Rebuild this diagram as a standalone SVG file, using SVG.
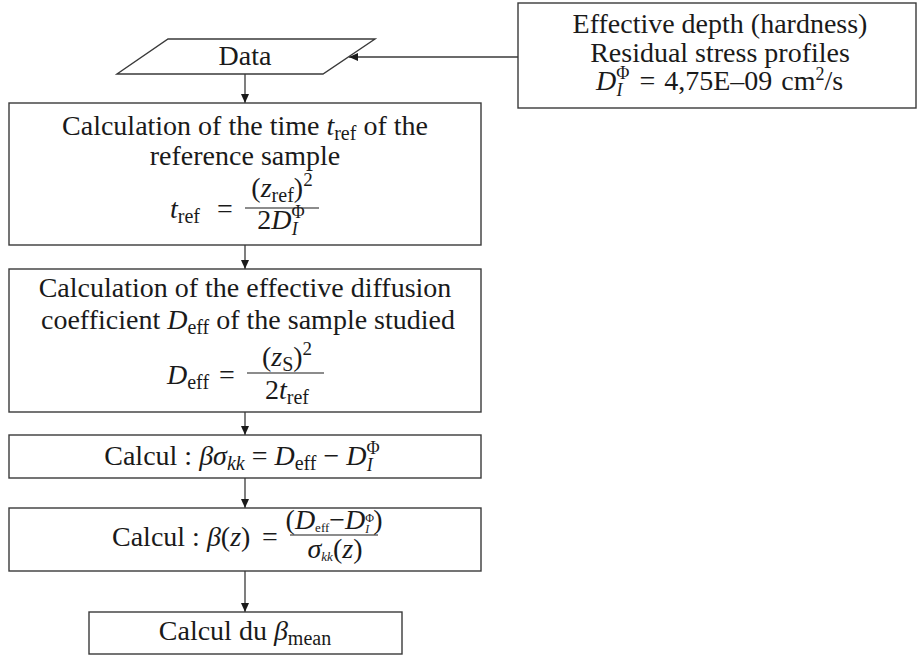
<svg xmlns="http://www.w3.org/2000/svg" width="917" height="657" viewBox="0 0 917 657">
<defs>
<style>
text{font-family:"Liberation Serif","DejaVu Serif",serif;font-size:28px;fill:#1a1a1a}
.it{font-style:italic}
.box{fill:#fff;stroke:#3a3a3a;stroke-width:1.4}
.ln{stroke:#3a3a3a;stroke-width:1.3;fill:none}
.bar{stroke:#1a1a1a;stroke-width:1.2}
</style>
<marker id="ah" markerWidth="9" markerHeight="8" refX="9" refY="4" orient="auto" markerUnits="userSpaceOnUse">
<path d="M0,0 L9,4 L0,8 z" fill="#1a1a1a"/>
</marker>
</defs>
<rect width="917" height="657" fill="#fff"/>

<g id="connectors">
<line class="ln" x1="518" y1="57" x2="349" y2="57" marker-end="url(#ah)"/>
<line class="ln" x1="245" y1="74" x2="245" y2="103" marker-end="url(#ah)"/>
<line class="ln" x1="245" y1="245" x2="245" y2="269" marker-end="url(#ah)"/>
<line class="ln" x1="245" y1="412" x2="245" y2="435" marker-end="url(#ah)"/>
<line class="ln" x1="245" y1="478" x2="245" y2="508" marker-end="url(#ah)"/>
<line class="ln" x1="245" y1="571" x2="245" y2="612" marker-end="url(#ah)"/>
</g>

<g id="input">
<rect class="box" x="518" y="3" width="398" height="105"/>
<text x="720" y="33" text-anchor="middle">Effective depth (hardness)</text>
<text x="720" y="62" text-anchor="middle">Residual stress profiles</text>
<text x="596" y="90" word-spacing="2"><tspan class="it">D</tspan><tspan font-size="18" dy="-11">Φ</tspan><tspan class="it" font-size="18" dx="-13" dy="17">I</tspan><tspan dx="8" dy="-6"> = 4,75E–09 cm</tspan><tspan font-size="18" dy="-10">2</tspan><tspan dy="10">/s</tspan></text>
</g>

<g id="data">
<polygon class="box" points="168,39 375,39 323,74 117,74"/>
<text x="245" y="65" text-anchor="middle">Data</text>
</g>

<g id="tref">
<rect class="box" x="9" y="103" width="472" height="142"/>
<text x="245" y="135" text-anchor="middle">Calculation of the time <tspan class="it">t</tspan><tspan font-size="20" dy="5">ref</tspan><tspan dy="-5"> of the</tspan></text>
<text x="245" y="165" text-anchor="middle">reference sample</text>
<text x="170" y="218"><tspan class="it">t</tspan><tspan font-size="20" dy="5">ref</tspan></text>
<text x="217" y="218">=</text>
<line class="bar" x1="245" y1="208" x2="319" y2="208"/>
<text x="282" y="197" text-anchor="middle">(<tspan class="it">z</tspan><tspan font-size="20" dy="5">ref</tspan><tspan dy="-5">)</tspan><tspan font-size="19" dy="-11">2</tspan></text>
<text x="281" y="229" text-anchor="middle">2<tspan class="it">D</tspan><tspan font-size="18" dy="-11">Φ</tspan><tspan class="it" font-size="18" dx="-13" dy="17">I</tspan></text>
</g>

<g id="deff">
<rect class="box" x="9" y="269" width="472" height="143"/>
<text x="245" y="297" text-anchor="middle">Calculation of the effective diffusion</text>
<text x="248" y="329" text-anchor="middle">coefficient <tspan class="it">D</tspan><tspan font-size="20" dy="5">eff</tspan><tspan dy="-5"> of the sample studied</tspan></text>
<text x="167" y="384"><tspan class="it">D</tspan><tspan font-size="20" dy="5">eff</tspan></text>
<text x="219" y="384">=</text>
<line class="bar" x1="247" y1="373" x2="324" y2="373"/>
<text x="287" y="366" text-anchor="middle">(<tspan class="it">z</tspan><tspan font-size="20" dy="5">S</tspan><tspan dy="-5">)</tspan><tspan font-size="19" dy="-11">2</tspan></text>
<text x="287" y="399" text-anchor="middle">2<tspan class="it">t</tspan><tspan font-size="20" dy="5">ref</tspan></text>
</g>

<g id="betasigma">
<rect class="box" x="9" y="435" width="472" height="43"/>
<text x="242" y="465" text-anchor="middle">Calcul : <tspan class="it">βσ</tspan><tspan class="it" font-size="20" dy="5">kk</tspan><tspan dy="-5"> = </tspan><tspan class="it">D</tspan><tspan font-size="20" dy="5">eff</tspan><tspan dy="-5"> − </tspan><tspan class="it">D</tspan><tspan font-size="18" dy="-11">Φ</tspan><tspan class="it" font-size="18" dx="-13" dy="17">I</tspan></text>
</g>

<g id="betaz">
<rect class="box" x="9" y="508" width="472" height="63"/>
<text x="112" y="546">Calcul : <tspan class="it">β</tspan>(<tspan class="it">z</tspan>)</text>
<text x="262" y="546">=</text>
<line class="bar" x1="290" y1="535" x2="378" y2="535"/>
<text x="334" y="529" text-anchor="middle" font-size="18">(<tspan class="it">D</tspan><tspan font-size="13" dy="3">eff</tspan><tspan dy="-3">−</tspan><tspan class="it">D</tspan><tspan font-size="12" dy="-7">Φ</tspan><tspan class="it" font-size="12" dx="-9" dy="11">I</tspan><tspan dx="4" dy="-4">)</tspan></text>
<text x="335" y="558" text-anchor="middle" font-size="18"><tspan class="it">σ</tspan><tspan class="it" font-size="13" dy="3">kk</tspan><tspan dy="-3">(</tspan><tspan class="it">z</tspan>)</text>
</g>

<g id="betamean">
<rect class="box" x="89" y="612" width="313" height="42"/>
<text x="245" y="640" text-anchor="middle">Calcul du <tspan class="it">β</tspan><tspan font-size="20" dy="5">mean</tspan></text>
</g>
</svg>
